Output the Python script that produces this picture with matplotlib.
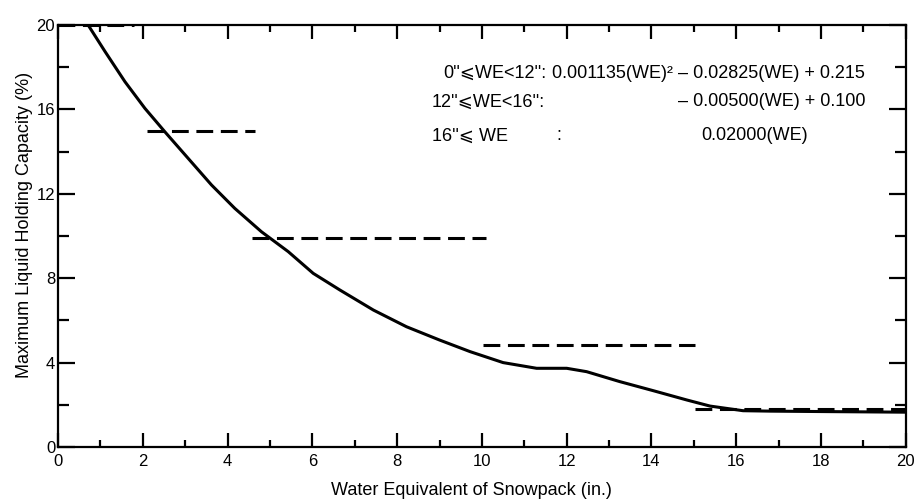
import matplotlib
matplotlib.use('Agg')
import matplotlib.pyplot as plt
from matplotlib.ticker import MultipleLocator

plt.rcParams['font.family'] = ['Liberation Sans', 'DejaVu Sans']

# Curva (polegadas de água, % de capacidade)
we = [0.71, 1.11, 1.58, 2.05, 2.52, 3.07, 3.62, 4.17, 4.80, 5.43, 6.02, 6.65, 7.44, 8.22,
      9.0, 9.72, 10.50, 11.29, 12.0, 12.47, 13.25, 14.04, 14.83, 15.38, 16.16, 16.79, 18.0, 20.0]
capacity = [20.0, 18.74, 17.31, 16.05, 14.94, 13.68, 12.42, 11.31, 10.2, 9.26, 8.23, 7.44, 6.49, 5.70,
            5.07, 4.52, 4.0, 3.73, 3.73, 3.57, 3.10, 2.67, 2.23, 1.94, 1.72, 1.70, 1.68, 1.65]

# Segmentos tracejados (início, fim, nível)
dash_start = [0.0, 2.09, 4.57, 10.03, 15.02]
dash_end = [1.8, 4.65, 10.1, 15.02, 20.0]
dash_level = [20.0, 14.99, 9.89, 4.83, 1.79]

x_ticks = [0, 2, 4, 6, 8, 10, 12, 14, 16, 18, 20]
y_ticks = [0, 4, 8, 12, 16, 20]

fig = plt.figure(figsize=(9.15, 5.0), dpi=100)
ax = fig.add_axes([0.0634, 0.106, 0.9266, 0.844])

ax.plot(we, capacity, color='black', lw=2.2, solid_capstyle='round', solid_joinstyle='round')
for x0, x1, lvl in zip(dash_start, dash_end, dash_level):
    ax.plot([x0, x1], [lvl, lvl], color='black', lw=2.2, dashes=(5.5, 2.5))

ax.set_xlim(0, 20)
ax.set_ylim(0, 20)
ax.set_xticks(x_ticks)
ax.set_yticks(y_ticks)
ax.xaxis.set_minor_locator(MultipleLocator(1))
ax.yaxis.set_minor_locator(MultipleLocator(2))
ax.tick_params(which='both', direction='in', top=True, right=True, width=1.6, labelsize=12)
ax.tick_params(axis='x', which='major', length=10, pad=5)
ax.tick_params(axis='x', which='minor', length=5)
ax.tick_params(axis='y', which='major', length=12, pad=2)
ax.tick_params(axis='y', which='minor', length=8)
for sp in ax.spines.values():
    sp.set_linewidth(1.6)

ax.set_xlabel('Water Equivalent of Snowpack (in.)', fontsize=13, va='center')
ax.xaxis.set_label_coords(0.488, -0.102)
ax.set_ylabel('Maximum Liquid Holding Capacity (%)', fontsize=13, va='center')
ax.yaxis.set_label_coords(-0.039, 0.526)

# Equações
fs = 13
ax.text(0.454, 0.886, '0\'\'⩽WE<12\'\':', transform=ax.transAxes, fontsize=fs, ha='left', va='center')
ax.text(0.952, 0.886, '0.001135(WE)² – 0.02825(WE) + 0.215', transform=ax.transAxes, fontsize=fs, ha='right', va='center')
ax.text(0.441, 0.818, '12\'\'⩽WE<16\'\':', transform=ax.transAxes, fontsize=fs, ha='left', va='center')
ax.text(0.952, 0.818, '– 0.00500(WE) + 0.100', transform=ax.transAxes, fontsize=fs, ha='right', va='center')
ax.text(0.441, 0.737, '16\'\'⩽ WE', transform=ax.transAxes, fontsize=fs, ha='left', va='center')
ax.text(0.588, 0.737, ':', transform=ax.transAxes, fontsize=fs, ha='left', va='center')
ax.text(0.759, 0.737, '0.02000(WE)', transform=ax.transAxes, fontsize=fs, ha='left', va='center')

fig.savefig('out.png', dpi=100)
